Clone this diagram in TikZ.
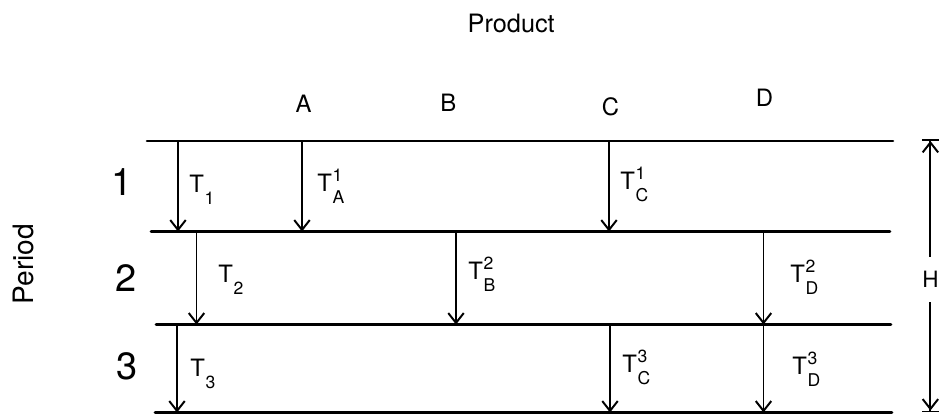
\documentclass[tikz,border=0pt]{standalone}
\usepackage{fontspec}
\setmainfont{TeX Gyre Heros}
\usetikzlibrary{arrows.meta}
\newcommand\idxfont{\fontsize{12.5}{12.5}\selectfont}
\newcommand\tidx[2]{T\kern0.6pt\rlap{\raisebox{7.5pt}{\idxfont #1}}\raisebox{-8.5pt}{\idxfont #2}}
\tikzset{
  rowline/.style={line width=1.8pt,line cap=round},
  flow/.style={line width=1.4pt,-{Straight Barb[length=7pt,width=11pt,line width=1.4pt]}},
  span/.style={line width=1.4pt,-{Straight Barb[length=7pt,width=11pt,line width=1.4pt]Bar[width=12pt,line width=1.4pt]}},
  tlabel/.style={anchor=base west,inner sep=0pt,font=\fontsize{17}{17}\selectfont},
  col/.style={inner sep=0pt,font=\fontsize{17}{17}\selectfont},
  num/.style={inner sep=0pt,font=\fontsize{27}{27}\selectfont},
  title/.style={inner sep=0pt,font=\fontsize{18}{18}\selectfont},
}
\begin{document}
\begin{tikzpicture}[x=1cm,y=1cm]
\path[use as bounding box] (0,0) rectangle (23.65,10.40);
% headings
\node[title] (prod) at (12.78,9.825) {Product};
\node[title,font=\fontsize{20}{20}\selectfont,rotate=90] (period) at (0.575,3.80) {Period};
\node[col] (colA) at (7.59,7.80) {A};
\node[col] (colB) at (11.21,7.825) {B};
\node[col] (colC) at (15.26,7.74) {C};
\node[col] (colD) at (19.11,7.96) {D};
\node[num] (p1) at (3.04,5.86) {1};
\node[num] (p2) at (3.15,3.44) {2};
\node[num] (p3) at (3.18,1.24) {3};
% period boundaries
\foreach \i/\xa/\xb/\y in {1/3.675/22.325/6.875, 2/3.775/22.25/4.6125, 3/3.90/22.275/2.2875, 4/3.875/22.30/0.0875} {
  \coordinate (w\i) at (\xa,\y);
  \coordinate (e\i) at (\xb,\y);
  \draw[rowline] (w\i) -- (e\i);
}
% set-ups
\foreach \x/\a/\b in {4.45/1/2, 7.55/1/2, 15.225/1/2, 4.9125/2/3, 11.40/2/3, 19.0875/2/3, 4.425/3/4, 15.25/3/4, 19.0875/3/4}
  \draw[flow] (\x,0 |- w\a) -- (\x,0 |- w\b);
\node[tlabel] (t1) at (4.725,5.575) {\tidx{}{1}};
\node[tlabel] (ta1) at (7.925,5.60) {\tidx{1}{A}};
\node[tlabel] (tc1) at (15.50,5.65) {\tidx{1}{C}};
\node[tlabel] (t2) at (5.45,3.325) {\tidx{}{2}};
\node[tlabel] (tb2) at (11.70,3.40) {\tidx{2}{B}};
\node[tlabel] (td2) at (19.75,3.325) {\tidx{2}{D}};
\node[tlabel] (t3) at (4.75,0.975) {\tidx{}{3}};
\node[tlabel] (tc3) at (15.55,1.075) {\tidx{3}{C}};
\node[tlabel] (td3) at (19.80,1.025) {\tidx{3}{D}};
% horizon
\coordinate (Htop) at (23.26,6.925);
\coordinate (Hbot) at (23.26,0.0875);
\node[inner sep=0pt,minimum height=1.125cm,font=\fontsize{16}{16}\selectfont] (H) at (23.26,3.41) {H};
\draw[span] (H.north) -- (Htop);
\draw[span] (H.south) -- (Hbot);
\end{tikzpicture}
\end{document}
